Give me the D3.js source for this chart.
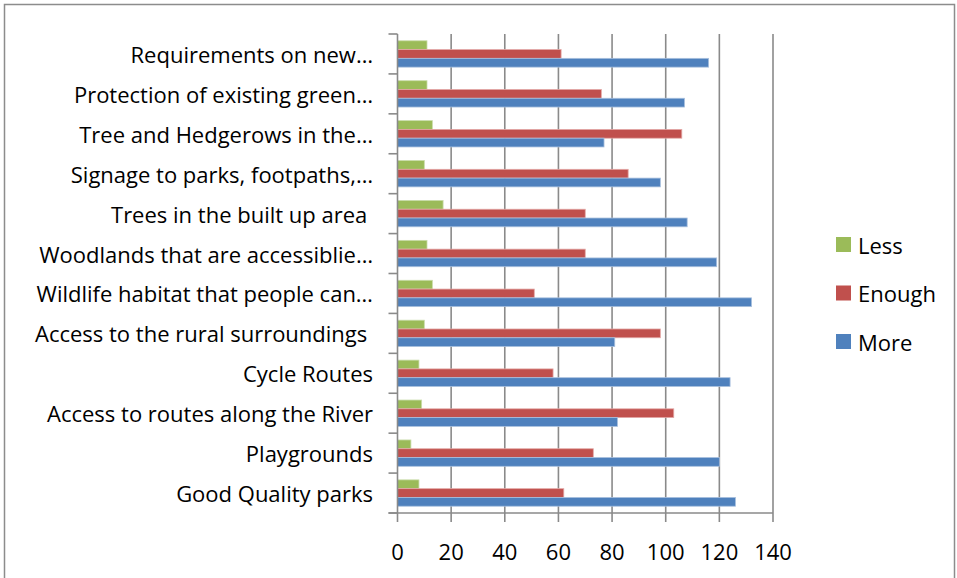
<!DOCTYPE html>
<html><head><meta charset="utf-8">
<script src="https://cdn.jsdelivr.net/npm/d3@7"></script>
<style>
html,body{margin:0;padding:0;background:#fff;}
svg{display:block;}
text{font-family:"Open Sans",Lato,sans-serif;fill:#000;}
</style></head>
<body>
<svg id="chart" width="957" height="578"></svg>
<script>
const categories = [
  "Requirements on new…",
  "Protection of existing green…",
  "Tree and Hedgerows in the…",
  "Signage to parks, footpaths,…",
  "Trees in the built up area ",
  "Woodlands that are accessiblie…",
  "Wildlife habitat that people can…",
  "Access to the rural surroundings ",
  "Cycle Routes",
  "Access to routes along the River",
  "Playgrounds",
  "Good Quality parks"
];
const seriesNames = ["Less", "Enough", "More"];
const lessValues   = [11, 11, 13, 10, 17, 11, 13, 10, 8, 9, 5, 8];
const enoughValues = [61, 76, 106, 86, 70, 70, 51, 98, 58, 103, 73, 62];
const moreValues   = [116, 107, 77, 98, 108, 119, 132, 81, 124, 82, 120, 126];
const xTicks = [0, 20, 40, 60, 80, 100, 120, 140];
const colors = {Less: "#9BBB59", Enough: "#C0504D", More: "#4F81BD"};
const strokes = {Less: "#c9dcaa", Enough: "#e3a9a7", More: "#a9c0de"};

const svg = d3.select("#chart");
const valuesBySeries = {Less: lessValues, Enough: enoughValues, More: moreValues};
const FS = 22;

// outer border
svg.append("rect").attr("x", 4.5).attr("y", 4.5).attr("width", 950).attr("height", 590)
  .attr("fill", "none").attr("stroke", "#8c8c8c").attr("stroke-width", 1.5);

const x = d3.scaleLinear().domain([0, 140]).range([397.5, 773]);
const y = d3.scaleBand().domain(categories).range([34, 513]);
const bw = y.bandwidth();
const inner = d3.scaleBand().domain(seriesNames).range([bw * 0.17, bw * 0.83]);

// gridlines
svg.append("g").selectAll("line").data(xTicks.slice(1)).join("line")
  .attr("x1", d => x(d)).attr("x2", d => x(d))
  .attr("y1", 34).attr("y2", 513)
  .attr("stroke", "#8a8a8a").attr("stroke-width", 1.6);

// bars
const rows = categories.map((c, i) => seriesNames.map(s => ({c, s, v: valuesBySeries[s][i]}))).flat();
svg.append("g").selectAll("rect").data(rows).join("rect")
  .attr("x", x(0))
  .attr("y", d => y(d.c) + inner(d.s))
  .attr("width", d => x(d.v) - x(0))
  .attr("height", inner.bandwidth())
  .attr("fill", d => colors[d.s])
  .attr("stroke", d => strokes[d.s]).attr("stroke-width", 0.8);

// left axis
const yAxis = svg.append("g");
yAxis.append("line").attr("x1", x(0)).attr("x2", x(0)).attr("y1", 34).attr("y2", 513)
  .attr("stroke", "#8a8a8a").attr("stroke-width", 1.6);
const yTickPos = categories.map(c => y(c)).concat([513]);
yAxis.selectAll("line.t").data(yTickPos).join("line").attr("class", "t")
  .attr("x1", x(0) - 9).attr("x2", x(0)).attr("y1", d => d).attr("y2", d => d)
  .attr("stroke", "#8a8a8a").attr("stroke-width", 1.6);
yAxis.selectAll("text").data(categories).join("text")
  .attr("x", 373).attr("y", d => y(d) + bw / 2)
  .attr("text-anchor", "end").attr("dominant-baseline", "central")
  .attr("font-size", FS).attr("xml:space", "preserve")
  .text(d => d);

// bottom axis
const xAxis = svg.append("g");
xAxis.append("line").attr("x1", x(0) - 9).attr("x2", x(140)).attr("y1", 513).attr("y2", 513)
  .attr("stroke", "#8a8a8a").attr("stroke-width", 1.6);
xAxis.selectAll("line.t").data(xTicks).join("line").attr("class", "t")
  .attr("x1", d => x(d)).attr("x2", d => x(d)).attr("y1", 513).attr("y2", 522)
  .attr("stroke", "#8a8a8a").attr("stroke-width", 1.6);
xAxis.selectAll("text").data(xTicks).join("text")
  .attr("x", d => x(d)).attr("y", 551)
  .attr("text-anchor", "middle").attr("dominant-baseline", "central")
  .attr("font-size", FS).text(d => d);

// legend
const legendItems = ["Less", "Enough", "More"];
const lg = svg.append("g");
legendItems.forEach((s, i) => {
  const cy = 244.5 + i * 48.5;
  lg.append("rect").attr("x", 836).attr("y", cy - 7.5).attr("width", 15).attr("height", 15).attr("fill", colors[s]);
  lg.append("text").attr("x", 858).attr("y", cy).attr("dominant-baseline", "central")
    .attr("font-size", FS).text(s);
});
</script>
</body></html>
